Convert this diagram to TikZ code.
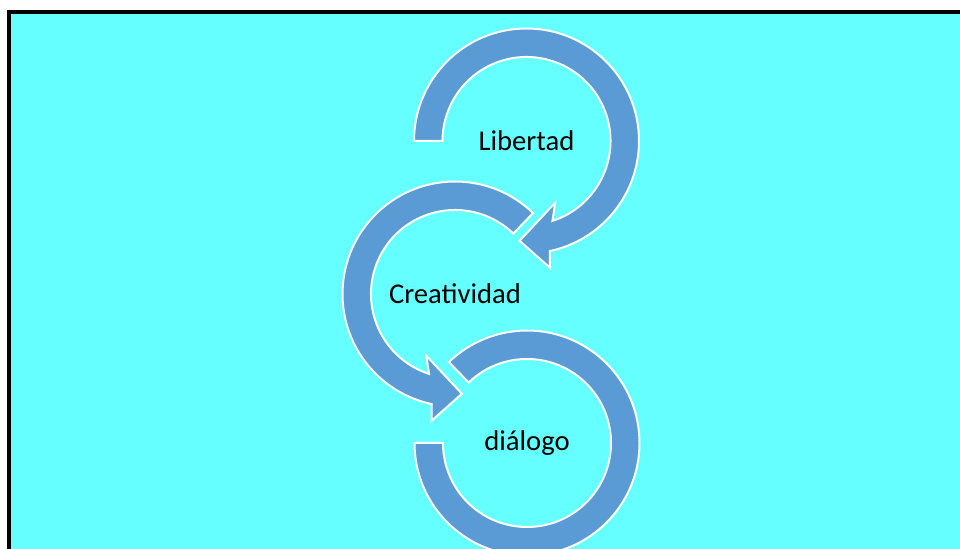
\documentclass[tikz,border=0pt]{standalone}
\usepackage{fontspec}
\setmainfont{Carlito}
\usetikzlibrary{positioning}
\definecolor{fondo}{HTML}{66FFFF}
\definecolor{flecha}{HTML}{5B9BD5}
\tikzset{
    ciclo/.style={fill=flecha,draw=white,line width=1.5pt,line join=miter},
    palabra/.style={font=\fontsize{21.5}{26}\selectfont,text=black}
}
\begin{document}
\begin{tikzpicture}[x=0.75pt,y=0.75pt]
		\useasboundingbox (0,0) rectangle (960,549);
		\clip (0,0) rectangle (960,549);
		\filldraw[fill=fondo,draw=black,line width=3pt] (8.7,537) rectangle (980,-30);
		\coordinate (c1) at (526.5,408);
		\coordinate (c2) at (455,255);
		\coordinate (c3) at (527,106);
		\filldraw[ciclo,shift={(c1)}] (180:112.5) arc[start angle=180,end angle=-78,radius=112.5] -- (-79.5:129) -- (-94:100) -- (-65:68) -- (-72:84) arc[start angle=-72,end angle=180,radius=84] -- cycle;
		\filldraw[ciclo,shift={(c2)}] (46:112.5) arc[start angle=46,end angle=258,radius=112.5] -- (259.5:129) -- (274:100) -- (245:68) -- (252:84) arc[start angle=252,end angle=46,radius=84] -- cycle;
		\filldraw[ciclo,shift={(c3)}] (180:112.5) arc[start angle=180,end angle=494,radius=112.5] -- (494:84) arc[start angle=494,end angle=180,radius=84] -- cycle;
		\node[palabra] (libertad) at (c1) {Libertad};
		\node[palabra] (creatividad) at (c2) {Creatividad};
		\node[palabra] (dialogo) at (c3) {diálogo};
\end{tikzpicture}
\end{document}
